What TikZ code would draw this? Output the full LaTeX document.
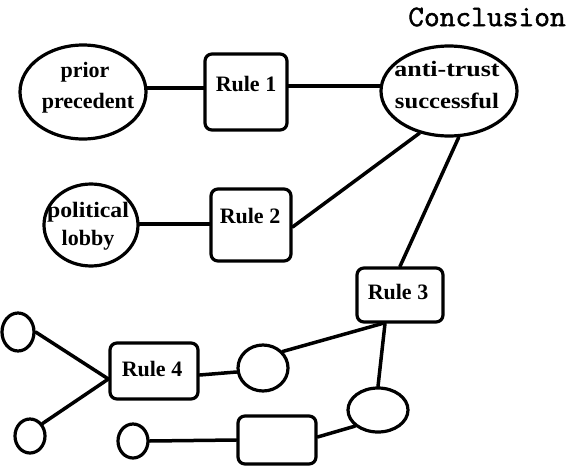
\documentclass[tikz,border=0pt]{standalone}
\usepackage{fontspec}
\setmainfont{Liberation Serif}
\newfontfamily\conclfont{lmmono10-regular.otf}[FakeBold=1.3]
\usetikzlibrary{shapes.geometric}
\tikzset{
  conn/.style={line width=3.5pt, line cap=round},
  oval/.style={ellipse, draw, line width=3.2pt, inner sep=0pt},
  rulebox/.style={rectangle, draw, line width=3.2pt, rounded corners=7pt, inner sep=0pt},
  lbl/.style={font=\bfseries\fontsize{22}{24}\selectfont, inner sep=0pt},
  concl/.style={font=\conclfont\fontsize{30}{30}\selectfont, inner sep=0pt}
}
\begin{document}
\begin{tikzpicture}[x=1pt,y=-1pt]
\useasboundingbox (0,0) rectangle (570,466);
% title
\node[concl] (concl) at (487,17) {Conclusion};
% nodes
\node[oval, minimum width=126, minimum height=94] (prior) at (83,92) {};
\node[lbl] (priort1) at (85,72) {prior};
\node[lbl] (priort2) at (88,103) {precedent};
\node[rulebox, minimum width=82, minimum height=76] (r1) at (246,92) {};
\node[lbl] (r1t) at (246,84) {Rule 1};
\node[oval, minimum width=136, minimum height=90] (anti) at (449,91) {};
\node[lbl, xscale=1.18] (antit1) at (447,69) {anti-trust};
\node[lbl, xscale=1.12] (antit2) at (447,101) {successful};
\node[oval, minimum width=94, minimum height=82] (pol) at (91,225) {};
\node[lbl, xscale=1.08] (polt1) at (88,212) {political};
\node[lbl] (polt2) at (88,240) {lobby};
\node[rulebox, minimum width=80, minimum height=72] (r2) at (251,225) {};
\node[lbl] (r2t) at (250,216) {Rule 2};
\node[rulebox, minimum width=86, minimum height=54] (r3) at (400,295) {};
\node[lbl] (r3t) at (398,292) {Rule 3};
\node[oval, minimum width=32, minimum height=38] (c1) at (18,332) {};
\node[oval, minimum width=30, minimum height=34] (c2) at (30,436) {};
\node[rulebox, minimum width=88, minimum height=56] (r4) at (154,371) {};
\node[lbl] (r4t) at (152,369) {Rule 4};
\node[oval, minimum width=50, minimum height=46] (c3) at (263,368) {};
\node[oval, minimum width=60, minimum height=44] (e4) at (378,410) {};
\node[oval, minimum width=30, minimum height=34] (c5) at (133,441) {};
\node[rulebox, minimum width=78, minimum height=48] (b5) at (277,440) {};
% connectors
\coordinate (r4in) at ([yshift=-8pt]r4.west);
\draw[conn] (prior.east |- 0,88) -- (r1.west |- 0,88);
\draw[conn] (r1.east |- 0,86) -- (anti.west |- 0,86);
\draw[conn] (pol.east |- 0,224) -- (r2.west |- 0,224);
\draw[conn] ([yshift=-2pt]r2.east) -- (anti.235);
\draw[conn] (r3.north) -- (anti.282);
\draw[conn] (c1.east) -- (r4in);
\draw[conn] (c2.45) -- (r4in);
\draw[conn] ([yshift=-4pt]r4.east) -- ([yshift=-4pt]c3.west);
\draw[conn] (c3.40) -- ([xshift=-18pt]r3.south);
\draw[conn] ([xshift=-15pt]r3.south) -- (e4.north);
\draw[conn] (e4.215) -- ([yshift=3pt]b5.east);
\draw[conn] (c5.east) -- (b5.west);
\end{tikzpicture}
\end{document}
